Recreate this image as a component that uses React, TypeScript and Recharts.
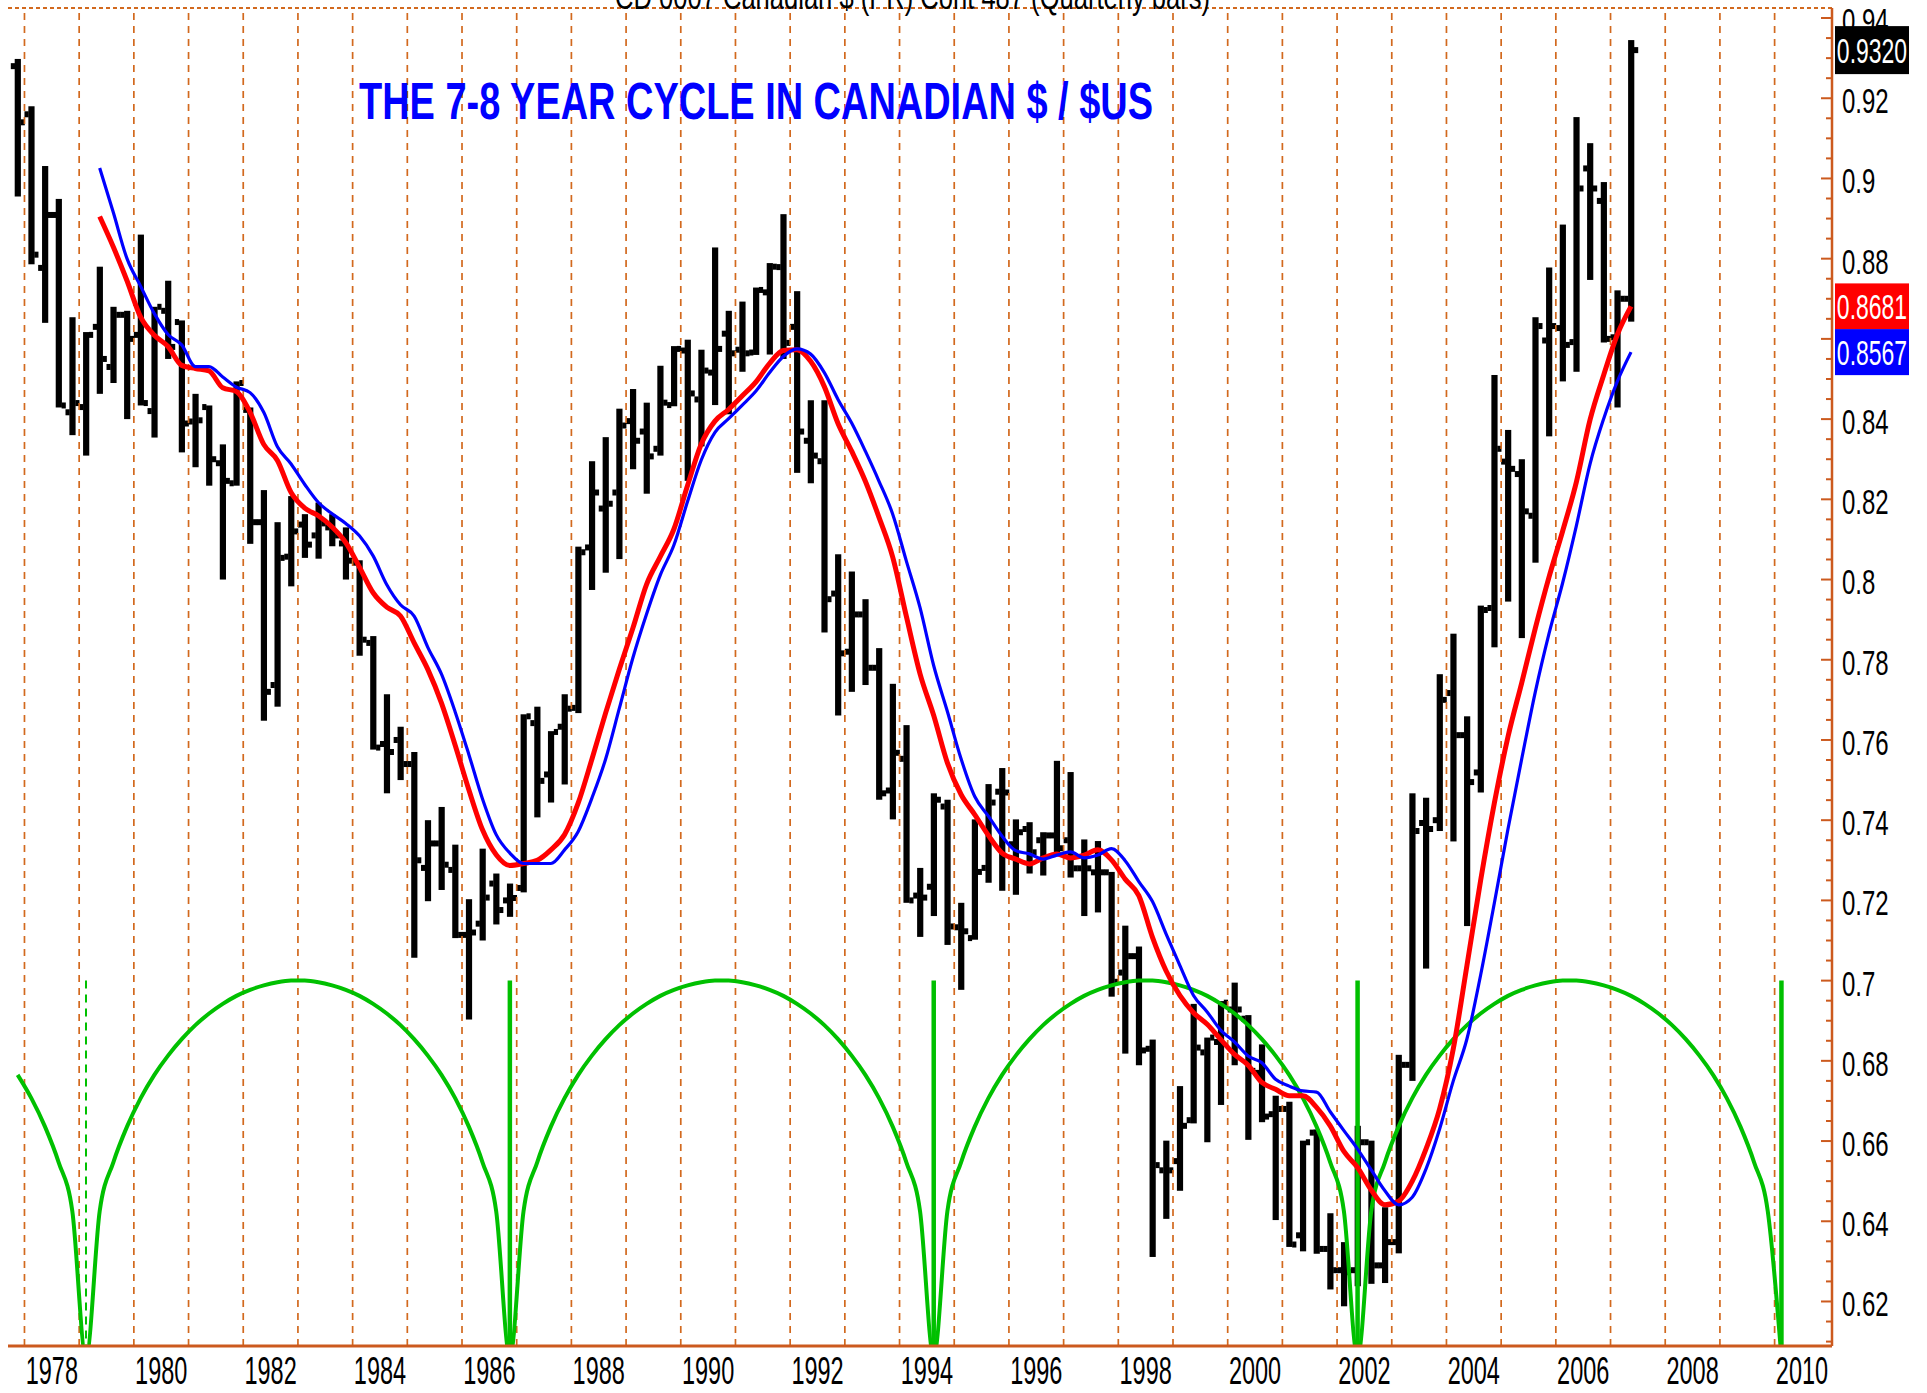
import React from 'react';
import { ComposedChart, Bar, Line, XAxis, YAxis, CartesianGrid, ReferenceLine } from 'recharts';

// ---------- categories (quarters 1977Q4 .. 2010Q4) ----------
const FIRST_YEAR = 1977;
const FIRST_QUARTER = 4;
const QUARTER_COUNT = 133;
const quarters: string[] = [];
for (let i = 0; i < QUARTER_COUNT; i++) {
  const qi = FIRST_QUARTER - 1 + i;
  quarters.push(`${FIRST_YEAR + Math.floor(qi / 4)}Q${(qi % 4) + 1}`);
}

// ---------- quarterly OHLC bars, 1977Q4 .. 2007Q2 ----------
const opens = [
  0.928,
  0.916, 0.8777, 0.8909, 0.8417,
  0.843, 0.863, 0.853, 0.866,
  0.861, 0.842, 0.867, 0.8642,
  0.8394, 0.843, 0.829, 0.824,
  0.8423, 0.8143, 0.7737, 0.8057,
  0.8137, 0.811, 0.813, 0.809,
  0.8042, 0.7842, 0.759, 0.76,
  0.754, 0.7281, 0.7342, 0.7276,
  0.7114, 0.7142, 0.7242, 0.72,
  0.7231, 0.7642, 0.7514, 0.7633,
  0.768, 0.808, 0.8177, 0.8217,
  0.8395, 0.8369, 0.8326, 0.8435,
  0.8571, 0.8449, 0.8516, 0.8613,
  0.8573, 0.8566, 0.8716, 0.8779,
  0.863, 0.8346, 0.8295, 0.7965,
  0.782, 0.7913, 0.778, 0.7474,
  0.7553, 0.7212, 0.7234, 0.7434,
  0.7133, 0.7106, 0.7281, 0.7471,
  0.734, 0.7378, 0.735, 0.7362,
  0.735, 0.728, 0.727, 0.727,
  0.702, 0.7061, 0.683, 0.6527,
  0.655, 0.6652, 0.6821, 0.6847,
  0.6928, 0.6905, 0.677, 0.6667,
  0.668, 0.6365, 0.6621, 0.6331,
  0.6278, 0.6278, 0.6597, 0.629,
  0.6348, 0.679, 0.7393, 0.74,
  0.7717, 0.7612, 0.7519, 0.7929,
  0.8294, 0.8263, 0.8159, 0.8596,
  0.8627, 0.8592, 0.9025, 0.8944,
  0.8604, 0.87,
];
const highs = [
  0.9298,
  0.918, 0.9031, 0.8949, 0.8654,
  0.8617, 0.878, 0.868, 0.867,
  0.886, 0.868, 0.8745, 0.8646,
  0.8463, 0.8434, 0.8337, 0.8494,
  0.8429, 0.8223, 0.8143, 0.8208,
  0.8163, 0.8192, 0.8163, 0.813,
  0.8048, 0.7859, 0.7714, 0.7633,
  0.757, 0.74, 0.7433, 0.7339,
  0.7203, 0.7329, 0.7267, 0.7242,
  0.7664, 0.7683, 0.7622, 0.7714,
  0.8082, 0.8295, 0.8355, 0.8426,
  0.8475, 0.8441, 0.8533, 0.8582,
  0.8598, 0.8573, 0.8828, 0.867,
  0.8693, 0.8728, 0.8789, 0.8911,
  0.8719, 0.8447, 0.8447, 0.8063,
  0.802, 0.7951, 0.7829, 0.774,
  0.7637, 0.7281, 0.7467, 0.7451,
  0.7194, 0.7402, 0.749, 0.753,
  0.7402, 0.7395, 0.737, 0.7548,
  0.752, 0.7352, 0.7348, 0.7271,
  0.7137, 0.7085, 0.6853, 0.6601,
  0.6737, 0.6942, 0.6858, 0.6949,
  0.6995, 0.6914, 0.6841, 0.6713,
  0.6698, 0.6601, 0.6629, 0.642,
  0.6348, 0.6638, 0.6601, 0.6435,
  0.6815, 0.7467, 0.7456, 0.7764,
  0.7865, 0.7659, 0.7935, 0.851,
  0.8373, 0.83, 0.8654, 0.8778,
  0.8885, 0.9153, 0.9088, 0.8991,
  0.8721, 0.9345,
];
const lows = [
  0.8955,
  0.8786, 0.864, 0.8429, 0.836,
  0.8309, 0.8463, 0.849, 0.84,
  0.8434, 0.8354, 0.855, 0.8317,
  0.828, 0.8234, 0.8, 0.8234,
  0.8089, 0.7648, 0.7683, 0.7983,
  0.8054, 0.8052, 0.8083, 0.8,
  0.781, 0.7576, 0.7467, 0.75,
  0.7057, 0.7198, 0.7226, 0.7106,
  0.6903, 0.71, 0.714, 0.7159,
  0.722, 0.7407, 0.7444, 0.7489,
  0.7667, 0.7974, 0.8017, 0.8051,
  0.8275, 0.8214, 0.8309, 0.8432,
  0.8246, 0.8332, 0.8435, 0.8412,
  0.8518, 0.856, 0.8561, 0.855,
  0.8266, 0.824, 0.7868, 0.7661,
  0.772, 0.7737, 0.7451, 0.7402,
  0.7194, 0.7109, 0.7161, 0.7089,
  0.6977, 0.7102, 0.7244, 0.7224,
  0.7214, 0.7267, 0.7262, 0.7316,
  0.7257, 0.7161, 0.717, 0.696,
  0.6818, 0.6789, 0.6311, 0.6406,
  0.6476, 0.6644, 0.6597, 0.669,
  0.6789, 0.6603, 0.6647, 0.6403,
  0.6336, 0.6325, 0.6319, 0.623,
  0.6188, 0.6238, 0.6244, 0.6246,
  0.632, 0.675, 0.703, 0.7373,
  0.7347, 0.7136, 0.7469, 0.7831,
  0.7945, 0.7854, 0.8042, 0.8357,
  0.8494, 0.8518, 0.8747, 0.8591,
  0.8429, 0.8643,
];
const closes = [
  0.914,
  0.881, 0.8909, 0.8434, 0.844,
  0.861, 0.855, 0.866, 0.86,
  0.844, 0.868, 0.858, 0.8389,
  0.8397, 0.83, 0.8246, 0.849,
  0.8143, 0.772, 0.8054, 0.812,
  0.8087, 0.814, 0.811, 0.8047,
  0.785, 0.7581, 0.757, 0.754,
  0.73, 0.7342, 0.7289, 0.7114,
  0.712, 0.7207, 0.7176, 0.7206,
  0.7659, 0.7498, 0.762, 0.7678,
  0.8068, 0.8217, 0.8189, 0.8384,
  0.8346, 0.8307, 0.8441, 0.8575,
  0.8464, 0.8521, 0.8575, 0.8564,
  0.8564, 0.8722, 0.878, 0.859,
  0.8369, 0.8309, 0.7951, 0.7816,
  0.7913, 0.778, 0.7467, 0.7568,
  0.72, 0.7207, 0.7451, 0.7135,
  0.7123, 0.7271, 0.7444, 0.7469,
  0.737, 0.732, 0.7362, 0.733,
  0.728, 0.728, 0.727, 0.6997,
  0.7061, 0.6826, 0.654, 0.6527,
  0.6638, 0.6833, 0.6858, 0.6945,
  0.6928, 0.6775, 0.6661, 0.668,
  0.6342, 0.6597, 0.6331, 0.6278,
  0.6273, 0.6597, 0.629, 0.6348,
  0.679, 0.7373, 0.7378, 0.77,
  0.7612, 0.7495, 0.7924, 0.8326,
  0.8276, 0.817, 0.8632, 0.8632,
  0.8585, 0.8975, 0.8975, 0.86,
  0.87, 0.932,
];

// ---------- moving averages, 1979Q2 .. 2007Q2 ----------
const MA_START = 6;
const redAvg = [
  0.8905, 0.8829, 0.8745,
  0.8654, 0.8609, 0.8581, 0.8534,
  0.8526, 0.852, 0.8478, 0.8469,
  0.8417, 0.8337, 0.8297, 0.8217,
  0.8178, 0.8159, 0.8131, 0.8092,
  0.8031, 0.7967, 0.7931, 0.7909,
  0.7842, 0.7776, 0.7692, 0.7587,
  0.7476, 0.7376, 0.7314, 0.7287,
  0.7292, 0.73, 0.7326, 0.7364,
  0.7443, 0.7552, 0.7667, 0.7776,
  0.7879, 0.7988, 0.8057, 0.8126,
  0.8235, 0.8338, 0.8395, 0.8424,
  0.8458, 0.8493, 0.8539, 0.8571,
  0.8573, 0.8544, 0.8481, 0.8389,
  0.832, 0.8245, 0.8155, 0.8056,
  0.7908, 0.7765, 0.7661, 0.7543,
  0.7464, 0.7414, 0.7362, 0.7318,
  0.7303, 0.7291, 0.7306, 0.7316,
  0.7306, 0.7313, 0.7326, 0.7301,
  0.7253, 0.7212, 0.7108, 0.7024,
  0.6963, 0.692, 0.6891, 0.6853,
  0.6816, 0.6789, 0.6746, 0.6729,
  0.6713, 0.6713, 0.6684, 0.6638,
  0.6574, 0.6534, 0.6478, 0.6441,
  0.645, 0.65, 0.658, 0.668,
  0.683, 0.7038, 0.725, 0.7442,
  0.7608, 0.7742, 0.7879, 0.8006,
  0.8121, 0.8243, 0.8398, 0.851,
  0.8611, 0.8681,
];
const blueAvg = [
  0.9026, 0.8915, 0.88,
  0.8731, 0.8663, 0.8611, 0.8585,
  0.8531, 0.8531, 0.8505, 0.848,
  0.8466, 0.8417, 0.8331, 0.8288,
  0.8237, 0.8192, 0.8164, 0.814,
  0.8109, 0.8059, 0.7987, 0.7937,
  0.7909, 0.7831, 0.7764, 0.767,
  0.7564, 0.7453, 0.7364, 0.7318,
  0.7292, 0.7292, 0.7292, 0.7326,
  0.7372, 0.7455, 0.7552, 0.7678,
  0.7805, 0.7914, 0.8011, 0.8086,
  0.8195, 0.8298, 0.8367, 0.8401,
  0.8435, 0.847, 0.8516, 0.8556,
  0.8575, 0.8562, 0.8516, 0.8449,
  0.839, 0.832, 0.8245, 0.8163,
  0.8046, 0.793, 0.7785, 0.7671,
  0.7553, 0.7459, 0.741, 0.736,
  0.7324, 0.7316, 0.7303, 0.7313,
  0.7321, 0.7306, 0.7313, 0.7329,
  0.7299, 0.7247, 0.7197, 0.7116,
  0.7038, 0.6963, 0.6922, 0.6876,
  0.6847, 0.6812, 0.6795, 0.6754,
  0.6737, 0.6725, 0.6722, 0.6673,
  0.6626, 0.658, 0.6528, 0.6476,
  0.6441, 0.646, 0.653, 0.663,
  0.675, 0.6855, 0.7014, 0.7193,
  0.7378, 0.7552, 0.772, 0.7865,
  0.7992, 0.8134, 0.8288, 0.8401,
  0.8494, 0.8567,
];

// ---------- 7-8 year cycle arcs, 1977Q4 .. 2010Q1 ----------
const cycleArc = [
  0.6765, 0.6707, 0.6636, 0.6547, 0.6425,
  0.606, 0.6425, 0.6547, 0.6636, 0.6707, 0.6765, 0.6813, 0.6854, 0.6889, 0.6918, 0.6942, 0.6962, 0.6977, 0.6988, 0.6996, 0.7,
  0.7, 0.6996, 0.6988, 0.6977, 0.6962, 0.6942, 0.6918, 0.6889, 0.6854, 0.6813, 0.6765, 0.6707, 0.6636, 0.6547, 0.6425,
  0.606, 0.6425, 0.6547, 0.6636, 0.6707, 0.6765, 0.6813, 0.6854, 0.6889, 0.6918, 0.6942, 0.6962, 0.6977, 0.6988, 0.6996, 0.7,
  0.7, 0.6996, 0.6988, 0.6977, 0.6962, 0.6942, 0.6918, 0.6889, 0.6854, 0.6813, 0.6765, 0.6707, 0.6636, 0.6547, 0.6425,
  0.606, 0.6425, 0.6547, 0.6636, 0.6707, 0.6765, 0.6813, 0.6854, 0.6889, 0.6918, 0.6942, 0.6962, 0.6977, 0.6988, 0.6996, 0.7,
  0.7, 0.6996, 0.6988, 0.6977, 0.6962, 0.6942, 0.6918, 0.6889, 0.6854, 0.6813, 0.6765, 0.6707, 0.6636, 0.6547, 0.6425,
  0.606, 0.6425, 0.6547, 0.6636, 0.6707, 0.6765, 0.6813, 0.6854, 0.6889, 0.6918, 0.6942, 0.6962, 0.6977, 0.6988, 0.6996, 0.7,
  0.7, 0.6996, 0.6988, 0.6977, 0.6962, 0.6942, 0.6918, 0.6889, 0.6854, 0.6813, 0.6765, 0.6707, 0.6636, 0.6547, 0.6425,
  0.606,
];
const cycleLows = ['1979Q1', '1986Q4', '1994Q3', '2002Q2', '2010Q1'];
const CYCLE_TOP = 0.7;

// ---------- axes ----------
const yearLabels = ['1978', '1980', '1982', '1984', '1986', '1988', '1990', '1992', '1994', '1996',
  '1998', '2000', '2002', '2004', '2006', '2008', '2010'];
const gridYears = ['1978', '1979', '1980', '1981', '1982', '1983', '1984', '1985', '1986', '1987', '1988',
  '1989', '1990', '1991', '1992', '1993', '1994', '1995', '1996', '1997', '1998', '1999', '2000', '2001',
  '2002', '2003', '2004', '2005', '2006', '2007', '2008', '2009', '2010'];
const gridValues = [0.62, 0.64, 0.66, 0.68, 0.7, 0.72, 0.74, 0.76, 0.78, 0.8, 0.82, 0.84, 0.86, 0.88, 0.9, 0.92, 0.94];
const yTicks = [
  0.61, 0.615, 0.62, 0.625, 0.63, 0.635, 0.64, 0.645, 0.65, 0.655, 0.66, 0.665, 0.67, 0.675, 0.68, 0.685,
  0.69, 0.695, 0.7, 0.705, 0.71, 0.715, 0.72, 0.725, 0.73, 0.735, 0.74, 0.745, 0.75, 0.755, 0.76, 0.765,
  0.77, 0.775, 0.78, 0.785, 0.79, 0.795, 0.8, 0.805, 0.81, 0.815, 0.82, 0.825, 0.83, 0.835, 0.84, 0.845,
  0.85, 0.855, 0.86, 0.865, 0.87, 0.875, 0.88, 0.885, 0.89, 0.895, 0.9, 0.905, 0.91, 0.915, 0.92, 0.925,
  0.93, 0.935, 0.94,
];
const Y_MIN = 0.6089;
const Y_MAX = 0.9425;

const AX = '#cc5a1e';
const GRID = '#d2691e';
const GREEN = '#00c000';
const FONT = "'Liberation Sans', Arial, sans-serif";

const lastClose = closes[closes.length - 1];
const lastRed = redAvg[redAvg.length - 1];
const lastBlue = blueAvg[blueAvg.length - 1];
const boxValues = [lastClose, lastRed, lastBlue];

const data = quarters.map((q, i) => ({
  q,
  hl: i < opens.length ? [lows[i], highs[i]] : null,
  o: i < opens.length ? opens[i] : null,
  h: i < opens.length ? highs[i] : null,
  l: i < opens.length ? lows[i] : null,
  c: i < opens.length ? closes[i] : null,
  red: i >= MA_START && i - MA_START < redAvg.length ? redAvg[i - MA_START] : null,
  blue: i >= MA_START && i - MA_START < blueAvg.length ? blueAvg[i - MA_START] : null,
  cyc: i < cycleArc.length ? cycleArc[i] : null,
}));

const OhlcShape = (props: any) => {
  const { x, y, width, height, payload } = props;
  if (!payload || payload.o == null) return null;
  const top = Math.min(y, y + height);
  const h = Math.abs(height);
  const span = payload.h - payload.l || 1;
  const toY = (v: number) => top + ((payload.h - v) / span) * h;
  const cx = x + width / 2;
  return (
    <g fill="#000">
      <rect x={cx - 3.1} y={top} width={6.2} height={Math.max(h, 2)} />
      <rect x={cx - 7} y={toY(payload.o) - 3} width={4.2} height={6} />
      <rect x={cx + 2.8} y={toY(payload.c) - 3} width={4.2} height={6} />
    </g>
  );
};

const YTick = (props: any) => {
  const { x, y, payload } = props;
  const v = payload.value;
  const major = Math.abs(v * 50 - Math.round(v * 50)) < 1e-6;
  const covered = boxValues.some((b) => Math.abs(b - v) < 0.0057);
  return (
    <g>
      <line x1={x - (major ? 11 : 6)} x2={x} y1={y} y2={y} stroke={AX} strokeWidth={2} />
      {major && !covered && (
        <g transform={`translate(${x + 10},${y + 2}) scale(1,1.5)`}>
          <text x={0} y={0} dominantBaseline="central" fontSize={24} fontFamily={FONT} fill="#000">
            {String(+v.toFixed(2))}
          </text>
        </g>
      )}
    </g>
  );
};

const makeYearLabel = (text: string) => (props: any) => {
  const vb = props.viewBox || {};
  const x = vb.x || 0;
  const y = (vb.y || 0) + (vb.height || 0) + 25;
  return (
    <g transform={`translate(${x},${y}) scale(1,1.65)`}>
      <text x={0} y={0} textAnchor="middle" dominantBaseline="central" fontSize={23.5} fontFamily={FONT} fill="#000">
        {text}
      </text>
    </g>
  );
};

const makeBox = (text: string, bg: string, h: number) => (props: any) => {
  const vb = props.viewBox || {};
  const bx = (vb.x || 0) + (vb.width || 0) + 3;
  const by = vb.y || 0;
  return (
    <g>
      <rect x={bx} y={by - h / 2} width={74} height={h} fill={bg} />
      <g transform={`translate(${bx + 37},${by}) scale(1,1.55)`}>
        <text x={0} y={0} textAnchor="middle" dominantBaseline="central" fontSize={23} fontFamily={FONT} fill="#fff">
          {text}
        </text>
      </g>
    </g>
  );
};

export default function App() {
  return (
    <div style={{ position: 'absolute', left: 0, top: 0, width: 1927, height: 1393, background: '#fff' }}>
      <ComposedChart
        width={1927}
        height={1393}
        data={data}
        margin={{ top: 8, right: 0, bottom: 0, left: 8 }}
      >
        <XAxis
          xAxisId="q"
          dataKey="q"
          type="category"
          padding={{ left: 2.8, right: 2.7 }}
          height={47}
          tick={false}
          tickLine={false}
          axisLine={{ stroke: AX, strokeWidth: 3 }}
        />
        <YAxis
          yAxisId="g"
          orientation="left"
          type="number"
          domain={[Y_MIN, Y_MAX]}
          ticks={gridValues}
          allowDataOverflow
          width={0}
          tick={false}
          tickLine={false}
          axisLine={{ stroke: AX, strokeWidth: 2.5 }}
        />
        <YAxis
          yAxisId="v"
          orientation="right"
          type="number"
          domain={[Y_MIN, Y_MAX]}
          allowDataOverflow
          ticks={yTicks}
          interval={0}
          width={95}
          tickSize={0}
          tickMargin={0}
          axisLine={{ stroke: AX, strokeWidth: 2.5 }}
          tickLine={false}
          tick={<YTick />}
        />
        <CartesianGrid xAxisId="q" yAxisId="g" vertical={false} stroke={GRID} strokeWidth={2} strokeDasharray="4 3" />
        {gridYears.map((yr) => (
          <ReferenceLine
            key={`g${yr}`}
            xAxisId="q"
            yAxisId="v"
            x={`${yr}Q1`}
            position="start"
            stroke={GRID}
            strokeWidth={1.7}
            strokeDasharray="7 6"
          />
        ))}
        {yearLabels.map((yr) => (
          <ReferenceLine
            key={`l${yr}`}
            xAxisId="q"
            yAxisId="v"
            x={`${yr}Q3`}
            position="start"
            stroke="none"
            label={makeYearLabel(yr)}
          />
        ))}

        <Line
          xAxisId="q"
          yAxisId="v"
          dataKey="cyc"
          type="monotone"
          stroke={GREEN}
          strokeWidth={4}
          dot={false}
          activeDot={false}
          isAnimationActive={false}
        />
        {cycleLows.map((q, i) => (
          <ReferenceLine
            key={q}
            xAxisId="q"
            yAxisId="v"
            segment={[{ x: q, y: CYCLE_TOP }, { x: q, y: Y_MIN }]}
            stroke={GREEN}
            strokeWidth={i === 0 ? 2 : 4.5}
            strokeDasharray={i === 0 ? '8 6' : undefined}
            ifOverflow="visible"
          />
        ))}

        <Bar
          xAxisId="q"
          yAxisId="v"
          dataKey="hl"
          barSize={12}
          shape={<OhlcShape />}
          isAnimationActive={false}
        />
        <Line
          xAxisId="q"
          yAxisId="v"
          dataKey="red"
          type="monotone"
          stroke="#ff0000"
          strokeWidth={5}
          dot={false}
          activeDot={false}
          isAnimationActive={false}
        />
        <Line
          xAxisId="q"
          yAxisId="v"
          dataKey="blue"
          type="monotone"
          stroke="#0000ff"
          strokeWidth={3.2}
          dot={false}
          activeDot={false}
          isAnimationActive={false}
        />

        <ReferenceLine xAxisId="q" yAxisId="v" y={lastClose} stroke="none" label={makeBox(lastClose.toFixed(4), '#000', 48)} />
        <ReferenceLine xAxisId="q" yAxisId="v" y={lastRed} stroke="none" label={makeBox(lastRed.toFixed(4), '#ff0000', 46)} />
        <ReferenceLine xAxisId="q" yAxisId="v" y={lastBlue} stroke="none" label={makeBox(lastBlue.toFixed(4), '#0000ff', 46)} />
      </ComposedChart>

      <svg
        width={1927}
        height={1393}
        style={{ position: 'absolute', left: 0, top: 0, pointerEvents: 'none' }}
      >
        <g transform="translate(615,9) scale(1,1.6)">
          <text x={0} y={0} fontSize={22} fontFamily={FONT} fill="#000" textLength={595} lengthAdjust="spacingAndGlyphs">
            CD 0007 Canadian $ (PR) Cont 487 (Quarterly bars)
          </text>
        </g>
        <g transform="translate(359,119) scale(1,1.43)">
          <text x={0} y={0} fontSize={36} fontWeight={700} fontFamily={FONT} fill="#0000ff" textLength={794} lengthAdjust="spacingAndGlyphs">
            THE 7-8 YEAR CYCLE IN CANADIAN $ / $US
          </text>
        </g>
      </svg>
    </div>
  );
}
